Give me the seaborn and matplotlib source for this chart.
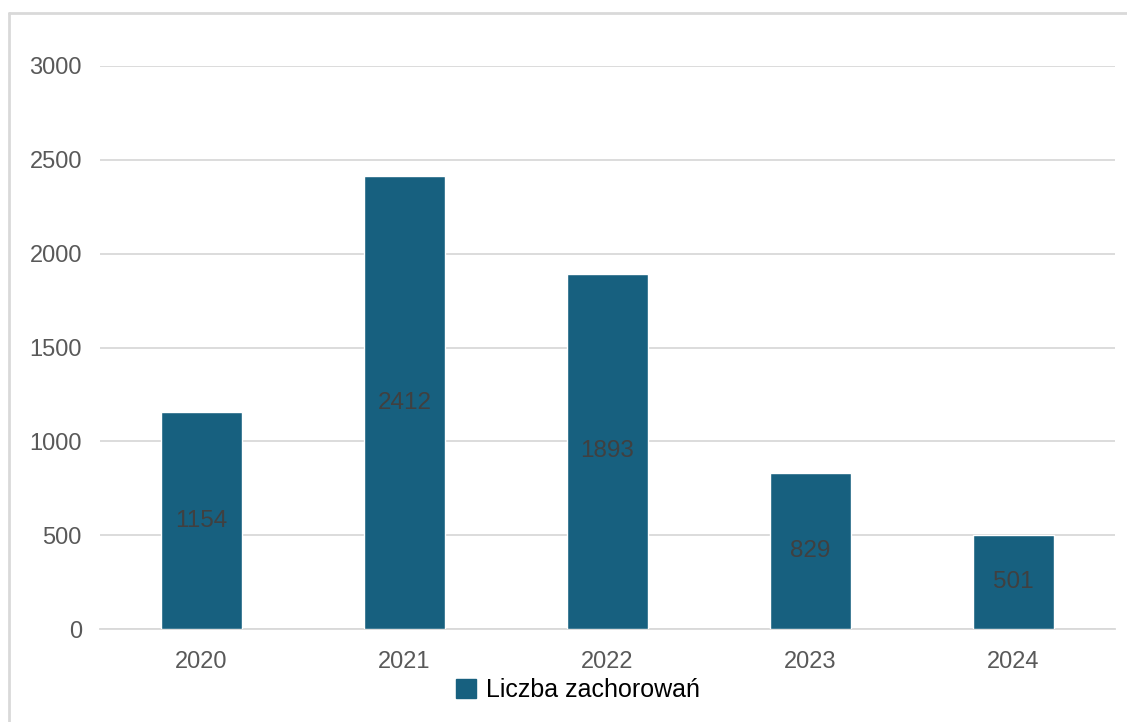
import matplotlib
matplotlib.use("Agg")
import matplotlib.pyplot as plt
from matplotlib.lines import Line2D
from matplotlib.patches import Patch
import seaborn as sns
import pandas as pd

# Dane
lata = ["2020", "2021", "2022", "2023", "2024"]
zachorowania = [1154, 2412, 1893, 829, 501]
seria = "Liczba zachorowań"

kolor_slupka = "#17607F"
kolor_siatki = "#D9D9D9"

sns.set_theme(style="white")
plt.rcParams["font.family"] = ["Liberation Sans", "DejaVu Sans"]

df = pd.DataFrame({"rok": lata, "wartosc": zachorowania})

fig = plt.figure(figsize=(11.27, 7.22), dpi=100)
ax = fig.add_axes([100 / 1127, 1 - 629 / 722, 1015 / 1127, 563 / 722])

sns.barplot(data=df, x="rok", y="wartosc", color=kolor_slupka, width=0.4,
            saturation=1, ax=ax, zorder=3)

# Etykiety w środku słupków
for i, v in enumerate(zachorowania):
    ax.text(i, v / 2, str(v), ha="center", va="center", fontsize=17.5,
            color="#404040", zorder=4)

ax.set_ylim(0, 3000)
ax.set_yticks(range(0, 3001, 500))
ax.set_xlim(-0.5, len(lata) - 0.5)
ax.yaxis.grid(True, color=kolor_siatki, linewidth=1.3, zorder=0)
ax.set_axisbelow(True)
for s in ["top", "right", "left"]:
    ax.spines[s].set_visible(False)
ax.spines["bottom"].set_color(kolor_siatki)
ax.spines["bottom"].set_linewidth(1.3)
ax.tick_params(axis="both", length=0, labelsize=17, labelcolor="#595959")
ax.tick_params(axis="y", pad=13)
ax.tick_params(axis="x", pad=16)
ax.set_xlabel("")
ax.set_ylabel("")

# Legenda
uchwyt = [Patch(facecolor=kolor_slupka, edgecolor=kolor_slupka, label=seria)]
fig.legend(handles=uchwyt, loc="center", bbox_to_anchor=(578 / 1127, 1 - 690 / 722),
           frameon=False, fontsize=18, handlelength=0.8, handleheight=0.8,
           handletextpad=0.4, labelcolor="black")

# Ramka wykresu
fig.add_artist(Line2D([9 / 1127, 9 / 1127], [0, 1 - 13 / 722], transform=fig.transFigure,
                      color=kolor_siatki, linewidth=2))
fig.add_artist(Line2D([9 / 1127, 1], [1 - 13 / 722, 1 - 13 / 722], transform=fig.transFigure,
                      color=kolor_siatki, linewidth=2))

fig.savefig("out.png", dpi=100)
